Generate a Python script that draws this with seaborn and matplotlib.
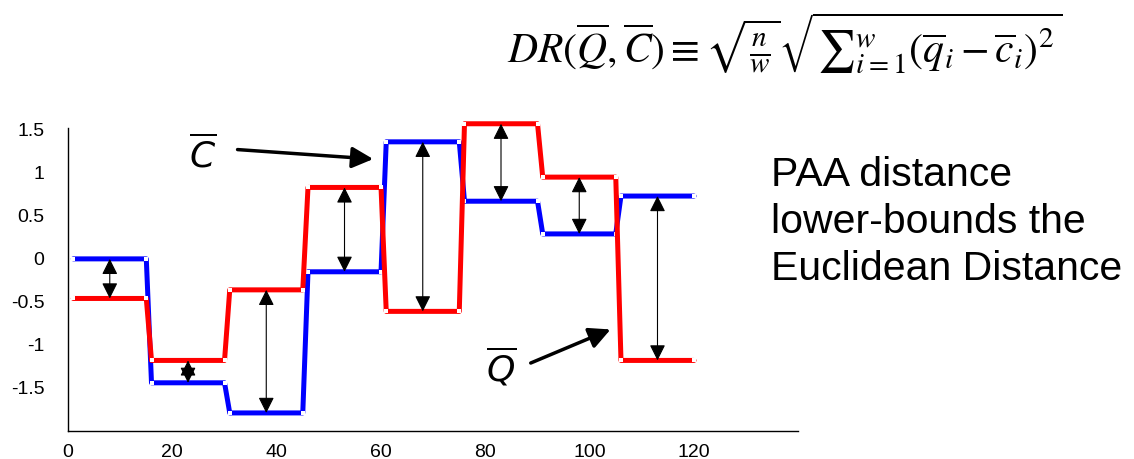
import matplotlib
matplotlib.use('Agg')
import matplotlib.pyplot as plt
import numpy as np
import pandas as pd
import seaborn as sns

# PAA segment values (8 segments of 15 points each)
seg_len = 15
c_vals = [0.0, -1.44, -1.79, -0.15, 1.36, 0.67, 0.29, 0.73]      # blue, C bar
q_vals = [-0.46, -1.18, -0.36, 0.83, -0.61, 1.57, 0.95, -1.18]   # red, Q bar
x_ticks = [0, 20, 40, 60, 80, 100, 120]
y_ticks = [-1.5, -1, -0.5, 0, 0.5, 1, 1.5]
y_labels = ['-1.5', '-1', '-0.5', '0', '0.5', '1', '1.5']

rows = []
for k in range(len(c_vals)):
    for xx in (seg_len * k + 1, seg_len * k + seg_len):
        rows.append({'x': xx, 'y': c_vals[k], 's': 'C'})
        rows.append({'x': xx, 'y': q_vals[k], 's': 'Q'})
df = pd.DataFrame(rows)

sns.set_style('white')
plt.rcParams['font.family'] = ['Liberation Sans', 'DejaVu Sans']
plt.rcParams['axes.unicode_minus'] = False
plt.rcParams['text.color'] = 'black'

fig = plt.figure(figsize=(11.34, 4.59), dpi=100)
ax = fig.add_axes([0.06, 0.061, 0.644, 0.66])

for name, col in [('C', '#0000ff'), ('Q', '#ff0000')]:
    sns.lineplot(data=df[df.s == name], x='x', y='y', sort=False, color=col,
                 lw=3.6, marker='s', markersize=2.2, markerfacecolor='white',
                 markeredgewidth=0, ax=ax, zorder=3 if name == 'Q' else 2,
                 clip_on=False)

# double arrows between the two PAA approximations
for k in range(len(c_vals)):
    xm = seg_len * k + 8
    ax.annotate('', xy=(xm, q_vals[k]), xytext=(xm, c_vals[k]),
                arrowprops=dict(arrowstyle='<|-|>', color='black', lw=0.8,
                                mutation_scale=24, shrinkA=0, shrinkB=0),
                zorder=4, annotation_clip=False)

ax.set_xlim(0, 140)
ax.set_ylim(-2, 1.52)
ax.set_xticks(x_ticks)
ax.set_yticks(y_ticks)
ax.set_yticklabels(y_labels)
ax.set_xlabel('')
ax.set_ylabel('')
ax.tick_params(direction='in', length=4, width=0.8, labelsize=14, colors='black')
ax.tick_params(axis='y', pad=17)
ax.tick_params(axis='x', pad=9)
sns.despine(ax=ax)
for sp in ['left', 'bottom']:
    ax.spines[sp].set_color('black')
    ax.spines[sp].set_linewidth(1.0)

# labels C bar and Q bar with pointing arrows
ax.text(25.8, 1.2, r'$\overline{C}$', fontsize=26, ha='center', va='center',
        math_fontfamily='dejavusans')
ax.annotate('', xy=(58.5, 1.16), xytext=(32.5, 1.27),
            arrowprops=dict(arrowstyle='-|>', color='black', lw=2.5,
                            mutation_scale=32, shrinkA=0, shrinkB=0))
ax.text(83.0, -1.26, r'$\overline{Q}$', fontsize=26, ha='center', va='center',
        math_fontfamily='dejavusans')
ax.annotate('', xy=(104.0, -0.82), xytext=(88.7, -1.21),
            arrowprops=dict(arrowstyle='-|>', color='black', lw=2.5,
                            mutation_scale=32, shrinkA=0, shrinkB=0))

fig.text(0.68, 0.66, 'PAA distance\nlower-bounds the\nEuclidean Distance',
         fontsize=29.5, ha='left', va='top', linespacing=1.3)

fig.text(0.447, 0.905,
         r'$DR(\overline{Q},\overline{C})\equiv\sqrt{\frac{n}{w}}'
         r'\sqrt{{\sum}_{i=1}^{w}\left(\overline{q}_i-\overline{c}_i\right)^2}$',
         fontsize=30, ha='left', va='center', math_fontfamily='stix')

fig.savefig('out.png', dpi=100, facecolor='white')
